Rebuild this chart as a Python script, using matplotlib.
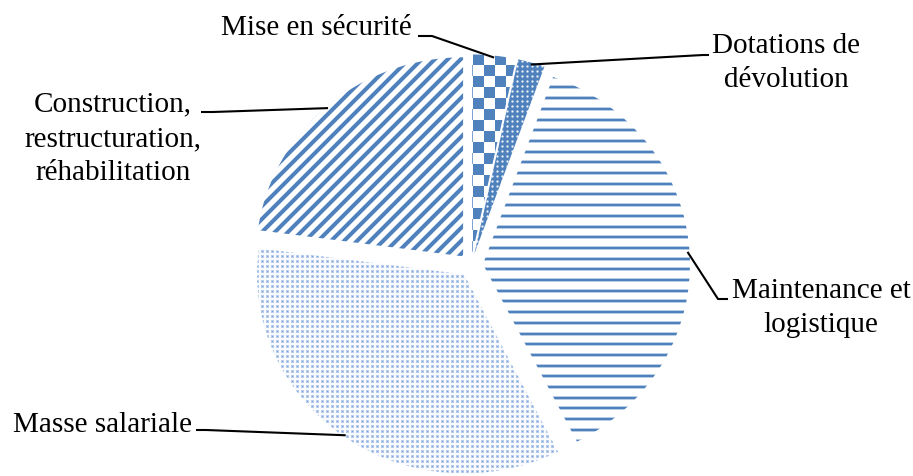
import numpy as np
import matplotlib.pyplot as plt

# shares of the budget, clockwise from the top
labels = ["Mise en sécurité", "Dotations de\ndévolution", "Maintenance et\nlogistique",
          "Masse salariale", "Construction,\nrestructuration,\nréhabilitation"]
shares = [3.4, 2.1, 37.0, 34.6, 22.9]

W, H = 913, 477
K = 1.04  # the original pie is slightly squashed vertically
BLUE = np.array([79, 129, 189]) / 255
LIGHT = np.array([125, 163, 218]) / 255

plt.rcParams['font.family'] = ['Liberation Serif', 'DejaVu Serif']

fig = plt.figure(figsize=(W / 100, H / 100), dpi=100)
ax = fig.add_axes([0, 0, 1, 1])


def px(x, y_top):
    # pixel position (y from the top) -> data coords
    return x, (H - y_top) * K


cx, cy = px(471, 266)
R = 207
wedges, _ = ax.pie(shares, startangle=90, counterclock=False, center=(cx, cy),
                   radius=R, explode=[12] * len(shares),
                   wedgeprops=dict(facecolor='none', edgecolor='none'))

yy, xx = np.mgrid[0:H, 0:W].astype(float)


def blend(a, col):
    a = np.clip(a, 0, 1)[..., None]
    return np.ones((H, W, 3)) * (1 - a) + col * a


def checker():
    s = 11
    a = ((xx // s + yy // s) % 2 == 0).astype(float)
    return blend(a, BLUE)


def white_dots():
    p = 5
    dx = (xx % p) - 2
    dy = (yy % p) - 2
    d = np.hypot(dx, dy)
    a = 1 - np.clip(1.6 - d, 0, 1) * 0.9
    return blend(a, BLUE)


def hlines():
    p = 10.7
    d = np.abs(((yy + 3) % p) - p / 2)
    a = np.where(d < 1.0, 1.0, np.where(d < 2.0, 0.4, 0.0))
    return blend(a, BLUE)


def fine_dots():
    p = 5
    dx = (xx % p) - 2
    dy = (yy % p) - 2
    d = np.maximum(np.abs(dx), np.abs(dy))
    a = np.where(d < 1, 1.0, np.where(d < 2, 0.55, 0.05))
    return blend(a, LIGHT)


def diagonal():
    p = 13
    t = (xx + yy) % p
    d = np.minimum(t, p - t)
    a = np.clip((3.6 - d) / 1.6, 0, 1)
    return blend(a, BLUE)


textures = [checker, white_dots, hlines, fine_dots, diagonal]
for w, tex in zip(wedges, textures):
    im = ax.imshow(tex(), extent=(0, W, 0, H * K), origin='upper',
                   interpolation='nearest', aspect='auto', zorder=1)
    im.set_clip_path(w)

ax.set_xlim(0, W)
ax.set_ylim(0, H * K)
ax.axis('off')

# label placement (pixels from the top) and leader line ends
text_pos = [(412, 28, 'right'), (786, 63, 'center'), (821, 308, 'center'),
            (192, 425, 'right'), (113, 139, 'center')]
line_end = [[(418, 37), (432, 37)], [(709, 56), (703, 56)], [(728, 300), (718, 300)],
            [(196, 431), (206, 431)], [(201, 113), (213, 113)]]

for w, lab, (tx, ty, ha), ends in zip(wedges, labels, text_pos, line_end):
    ax.text(*px(tx, ty), lab, ha=ha, va='center', fontsize=21,
            linespacing=1.42, color='black', zorder=3)
    th = np.deg2rad((w.theta1 + w.theta2) / 2)
    ax_x = w.center[0] + R * 0.99 * np.cos(th)
    ax_y = w.center[1] + R * 0.99 * np.sin(th)
    pts = [px(*p) for p in ends]
    xs = [p[0] for p in pts] + [ax_x]
    ys = [p[1] for p in pts] + [ax_y]
    ax.plot(xs, ys, color='black', lw=1.5, zorder=3, solid_capstyle='butt')

fig.savefig("out.png", dpi=100)
plt.close()
